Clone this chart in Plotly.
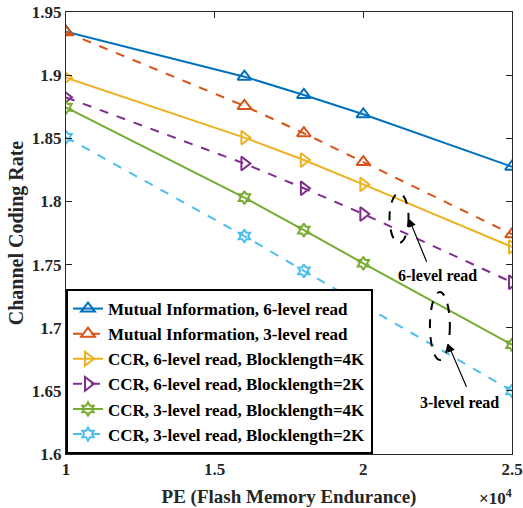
import plotly.graph_objects as go

# Data (PE in units of 1e4)
pe = [1.0, 1.6, 1.8, 2.0, 2.5]
mi_6 = [1.9344, 1.8988, 1.8843, 1.8690, 1.8275]
mi_3 = [1.9340, 1.8756, 1.8540, 1.8312, 1.7740]
ccr_6_4k = [1.8980, 1.8505, 1.8328, 1.8135, 1.7640]
ccr_6_2k = [1.8824, 1.8300, 1.8104, 1.7900, 1.7360]
ccr_3_4k = [1.8745, 1.8030, 1.7773, 1.7510, 1.6865]
ccr_3_2k = [1.8508, 1.7726, 1.7450, 1.7180, 1.6500]

names = [
    "Mutual Information, 6-level read",
    "Mutual Information, 3-level read",
    "CCR, 6-level read, Blocklength=4K",
    "CCR, 6-level read, Blocklength=2K",
    "CCR, 3-level read, Blocklength=4K",
    "CCR, 3-level read, Blocklength=2K",
]
series = [mi_6, mi_3, ccr_6_4k, ccr_6_2k, ccr_3_4k, ccr_3_2k]
colors = ["#0072BD", "#D95319", "#EDB120", "#7E2F8E", "#77AC30", "#4DBEEE"]
dashes = ["solid", "dash", "solid", "dash", "solid", "dash"]
symbols = ["triangle-up-open", "triangle-up-open", "triangle-right-open",
           "triangle-right-open", "hexagram-open", "hexagram-open"]
msizes = [12, 12, 12, 12, 10, 10]

x_ticks = [1, 1.5, 2, 2.5]
y_ticks = [1.6, 1.65, 1.7, 1.75, 1.8, 1.85, 1.9, 1.95]
y_labels = ["1.6", "1.65", "1.7", "1.75", "1.8", "1.85", "1.9", "1.95"]

FONT = "Liberation Serif"

fig = go.Figure()
for nm, ys, c, d, s, ms in zip(names, series, colors, dashes, symbols, msizes):
    fig.add_trace(go.Scatter(
        x=pe, y=ys, name=nm, mode="lines+markers",
        line=dict(color=c, width=2, dash=d),
        marker=dict(symbol=s, size=ms, color=c, line=dict(color=c, width=2)),
    ))

axis_common = dict(
    showgrid=False, zeroline=False, showline=True, linecolor="#262626",
    linewidth=1, mirror="ticks", ticks="inside", ticklen=6, automargin=False,
    tickcolor="#262626",
    tickfont=dict(family=FONT, size=17, color="#262626", weight="bold"),
)

fig.update_layout(
    width=523, height=508,
    margin=dict(l=66, r=11, t=12, b=54),
    paper_bgcolor="white", plot_bgcolor="white",
    font=dict(family=FONT, color="#262626"),
    xaxis=dict(range=[1, 2.5], tickvals=x_ticks,
               ticktext=[str(v) for v in x_ticks],
               title=dict(text="PE (Flash Memory Endurance)",
                          font=dict(family=FONT, size=19, color="#262626",
                                    weight="bold"),
                          standoff=11),
               **axis_common),
    yaxis=dict(range=[1.6, 1.95], tickvals=y_ticks, ticktext=y_labels,
               title=dict(text="Channel Coding Rate",
                          font=dict(family=FONT, size=20, color="#262626",
                                    weight="bold"),
                          standoff=2),
               **axis_common),
    legend=dict(x=0, y=0, xanchor="left", yanchor="bottom",
                bgcolor="white", bordercolor="black", borderwidth=2,
                font=dict(family=FONT, size=17, color="black", weight="bold"),
                itemwidth=30, tracegroupgap=0),
    showlegend=True,
)

# Ellipses
ellipses = [
    (2.088, 1.7672, 2.152, 1.8067),
    (2.224, 1.6744, 2.291, 1.7282),
]
for x0, y0, x1, y1 in ellipses:
    fig.add_shape(type="circle", xref="x", yref="y", x0=x0, y0=y0, x1=x1, y1=y1,
                  line=dict(color="black", width=2, dash="dash"))

# Arrows (head, tail)
arrows = [
    ((2.154, 1.7861), (2.215, 1.751)),
    ((2.285, 1.6871), (2.349, 1.652)),
]
for (hx, hy), (tx, ty) in arrows:
    fig.add_annotation(x=hx, y=hy, ax=tx, ay=ty, xref="x", yref="y",
                       axref="x", ayref="y", text="", showarrow=True,
                       arrowhead=2, arrowsize=1.3, arrowwidth=1.2,
                       arrowcolor="black")

labels = [("6-level read", 2.251, 1.741), ("3-level read", 2.322, 1.641)]
for t, lx, ly in labels:
    fig.add_annotation(x=lx, y=ly, xref="x", yref="y", text=t,
                       showarrow=False,
                       font=dict(family=FONT, size=16, color="black", weight="bold"))

fig.add_annotation(x=1.0, y=-0.098, xref="paper", yref="paper", xanchor="right",
                   yanchor="middle", xshift=2, showarrow=False,
                   text="×10<sup>4</sup>",
                   font=dict(family=FONT, size=17, color="#262626", weight="bold"))

fig.write_html("out.html")
